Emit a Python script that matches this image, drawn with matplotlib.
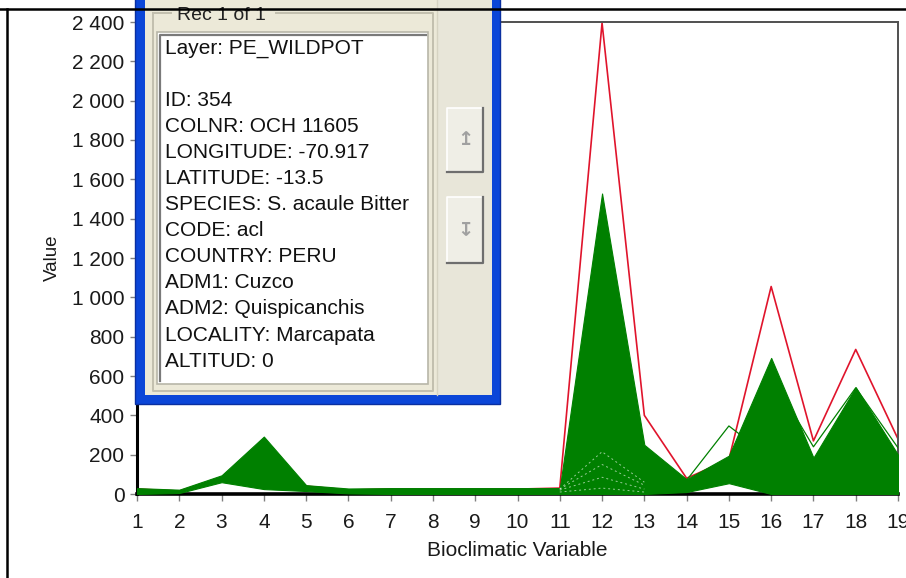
import matplotlib.pyplot as plt
import matplotlib.patches as patches
import matplotlib.ticker as ticker
from matplotlib.lines import Line2D

plt.rcParams['font.family'] = ['Liberation Sans', 'DejaVu Sans']

# bioclimatic variables 1..19
bio_vars = list(range(1, 20))

# envelope of the many green records (upper / lower edge of the green mass)
green_upper = [30, 22, 95, 292, 45, 28, 30, 30, 30, 30, 30, 1528, 250, 75, 195, 692, 185, 543, 200]
green_lower = [0, 5, 60, 25, 15, 3, 0, 0, 0, 0, 0, 0, 0, 10, 55, 0, 0, 0, 0]

# selected record (red)
red_record = [25, 15, 80, 250, 40, 20, 25, 25, 25, 25, 30, 2395, 400, 80, 175, 1055, 270, 735, 280]

# a few green records sticking out of the mass
thin_a_x = [14, 15, 16]
thin_a_y = [70, 346, 180]
thin_b_x = [16, 17, 18, 19]
thin_b_y = [600, 240, 540, 235]

# white gaps between records inside the mass
gap_x = [11, 12, 13]
gap_y1 = [25, 215, 60]
gap_y2 = [25, 150, 45]
gap_y3 = [20, 85, 25]
gap_y4 = [10, 30, 10]

y_ticks = list(range(0, 2401, 200))

popup_title = 'Rec 1 of 1'
popup_lines = ['Layer: PE_WILDPOT', '', 'ID: 354', 'COLNR: OCH 11605', 'LONGITUDE: -70.917',
               'LATITUDE: -13.5', 'SPECIES: S. acaule Bitter', 'CODE: acl', 'COUNTRY: PERU',
               'ADM1: Cuzco', 'ADM2: Quispicanchis', 'LOCALITY: Marcapata', 'ALTITUD: 0']

W, H = 906, 578
fig = plt.figure(figsize=(W / 100, H / 100), dpi=100)
fig.patch.set_facecolor('white')
ax = fig.add_axes([137 / W, 1 - 494 / H, (898 - 137) / W, (494 - 22) / H])

ax.plot(bio_vars, red_record, color='#e0142c', lw=1.2, zorder=2)
ax.fill_between(bio_vars, green_lower, green_upper, facecolor='#008000',
                edgecolor='#008000', lw=0.8, zorder=3)
ax.plot(thin_a_x, thin_a_y, color='#008000', lw=0.9, zorder=3)
ax.plot(thin_b_x, thin_b_y, color='#008000', lw=0.9, zorder=3)
for gy in [gap_y1, gap_y2, gap_y3, gap_y4]:
    ax.plot(gap_x, gy, color='white', lw=0.7, ls=(0, (2, 3)), alpha=0.6, zorder=4)

ax.set_xlim(1, 19)
ax.set_ylim(0, 2400)
ax.xaxis.set_major_locator(ticker.FixedLocator(bio_vars))
ax.yaxis.set_major_locator(ticker.FixedLocator(y_ticks))
ax.yaxis.set_major_formatter(ticker.FuncFormatter(lambda v, p: '{:,}'.format(int(v)).replace(',', ' ')))
ax.tick_params(axis='both', length=5, width=1, color='#808080', labelsize=15, labelcolor='#1a1a1a')
ax.tick_params(axis='x', pad=9)
ax.tick_params(axis='y', pad=4)

ax.spines['left'].set_linewidth(2.2)
ax.spines['bottom'].set_linewidth(2.6)
ax.spines['left'].set_color('black')
ax.spines['bottom'].set_color('black')
ax.spines['top'].set_color('#505050')
ax.spines['right'].set_color('#505050')
ax.spines['top'].set_linewidth(1.4)
ax.spines['right'].set_linewidth(1.4)

ax.set_xlabel('Bioclimatic Variable', fontsize=15, color='#1a1a1a', labelpad=6)
ax.set_ylabel('Value', fontsize=13.5, color='#1a1a1a', labelpad=8)


# popup window drawn in pixel coordinates (top-left origin)
def box(x0, y0, x1, y1, **kw):
    r = patches.Rectangle((x0 / W, 1 - y1 / H), (x1 - x0) / W, (y1 - y0) / H,
                          transform=fig.transFigure, **kw)
    fig.add_artist(r)


def line(xs, ys, **kw):
    fig.add_artist(Line2D([x / W for x in xs], [1 - y / H for y in ys],
                          transform=fig.transFigure, **kw))


box(135, -5, 500, 404, facecolor='#0b46d8', edgecolor='#0a2fa0', lw=1, zorder=10)
box(145, -5, 492, 395, facecolor='#ece9d8', edgecolor='none', zorder=11)
box(437, -5, 492, 395, facecolor='#e8e6d9', edgecolor='none', zorder=11)
line([437, 437], [-5, 395], color='#d6d3c2', lw=1, zorder=12)

# group box
gb = dict(color='#c2bfae', lw=1.4, zorder=12)
line([153, 153, 433, 433, 276], [13, 391, 391, 13, 13], **gb)
line([153, 171], [13, 13], **gb)
fig.text(177 / W, 1 - 15 / H, popup_title, fontsize=14, color='#222222',
         ha='left', va='center', zorder=13)

# sunken text box
box(157, 32, 428, 384, facecolor='white', edgecolor='#b8b6a8', lw=1.2, zorder=12)
line([160, 160, 426], [381, 35, 35], color='#7a7a7a', lw=1.6, zorder=13)
for i, txt in enumerate(popup_lines):
    fig.text(165 / W, 1 - (48 + 26.1 * i) / H, txt, fontsize=15, color='#111111',
             ha='left', va='center', zorder=14)

# arrow buttons
for (y0, y1, glyph) in [(108, 172, '\u21a5'), (197, 263, '\u21a7')]:
    box(447, y0, 483, y1, facecolor='#efeee6', edgecolor='none', zorder=12)
    line([447, 447, 483], [y1, y0, y0], color='#ffffff', lw=1.2, zorder=13)
    line([447, 483, 483], [y1, y1, y0], color='#6e6e6e', lw=1.6, zorder=13)
    fig.text(465 / W, 1 - (y0 + y1) / 2 / H, glyph, fontsize=14, color='#a0a0a0',
             family='DejaVu Sans', fontweight='bold', ha='center', va='center', zorder=13)

# outer window frame of the screenshot
line([0, W], [9, 9], color='black', lw=1.8, zorder=20)
line([7, 7], [9, H], color='black', lw=1.8, zorder=20)

fig.savefig('out.png', dpi=100)
